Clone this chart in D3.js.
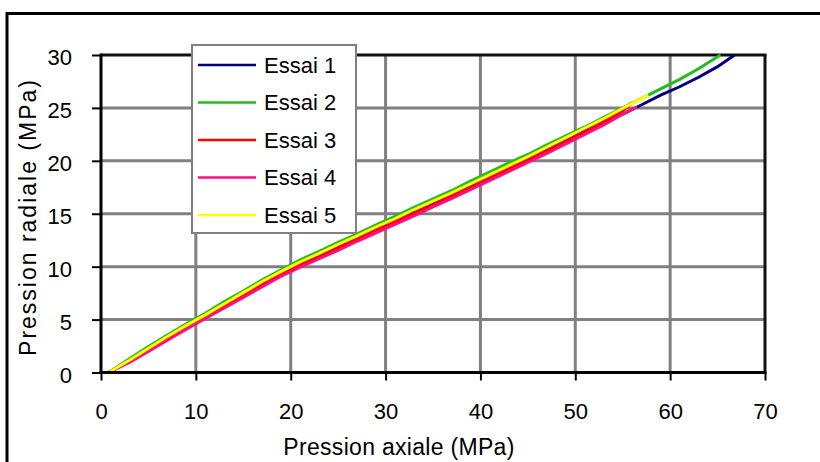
<!DOCTYPE html>
<html><head><meta charset="utf-8">
<script src="https://cdn.jsdelivr.net/npm/d3@7"></script>
<style>
html,body{margin:0;padding:0;background:#fff;}
svg{display:block;font-family:"Liberation Sans",Arial,sans-serif;}
</style></head>
<body>
<svg id="chart" width="820" height="462"></svg>
<script>
const seriesNames = ["Essai 1","Essai 2","Essai 3","Essai 4","Essai 5"];
const seriesColors = ["#000080","#22bb22","#ff0000","#ff0f80","#ffff00"];
const xTicks = [0,10,20,30,40,50,60,70];
const yTicks = [0,5,10,15,20,25,30];

const essai1X = [0.8,3,5,7,9,11,13,15,17,19,21,23,25,27,29,31,33,35,37,39,41,43,45,47,49,51,53,55,57,59,61,63,65,66.8];
const essai1Y = [0,1.1,2.2,3.3,4.3,5.3,6.4,7.4,8.4,9.4,10.3,11.1,11.9,12.8,13.6,14.4,15.3,16.1,16.9,17.7,18.6,19.4,20.3,21.1,21.9,22.8,23.6,24.4,25.3,26.2,27.0,27.9,28.9,30];
const essai2X = [0.8,3,5,7,9,11,13,15,17,19,21,23,25,27,29,31,33,35,37,39,41,43,45,47,49,51,53,55,57,59,61,63,65.3];
const essai2Y = [0,1.3,2.45,3.55,4.6,5.6,6.7,7.7,8.75,9.7,10.65,11.45,12.3,13.1,13.95,14.75,15.6,16.4,17.2,18.1,18.95,19.8,20.6,21.5,22.35,23.2,24.1,25.0,25.9,26.8,27.7,28.7,30];
const essai3X = [0.8,3,5,7,9,11,13,15,17,19,21,23,25,27,29,31,33,35,37,39,41,43,45,47,49,51,53,55,56];
const essai3Y = [0,1.05,2.15,3.2,4.25,5.2,6.25,7.3,8.3,9.3,10.15,10.95,11.75,12.6,13.45,14.25,15.05,15.85,16.7,17.5,18.4,19.25,20.1,20.95,21.85,22.75,23.7,24.7,25.5];
const essai4X = [0.8,3,5,7,9,11,13,15,17,19,21,23,25,27,29,31,33,35,37,39,41,43,45,47,49,51,53,55,56.5];
const essai4Y = [0,0.95,2.0,3.05,4.1,5.1,6.1,7.1,8.1,9.1,9.95,10.75,11.55,12.4,13.2,14.0,14.8,15.65,16.45,17.3,18.15,19.0,19.85,20.7,21.6,22.5,23.4,24.4,25.1];
const essai5X = [0.8,3,5,7,9,11,13,15,17,19,21,23,25,27,29,31,33,35,37,39,41,43,45,47,49,51,53,55,57,57.7];
const essai5Y = [0,1.15,2.3,3.4,4.45,5.45,6.5,7.55,8.6,9.55,10.45,11.25,12.1,12.9,13.75,14.55,15.4,16.2,17.0,17.85,18.7,19.55,20.4,21.3,22.2,23.1,24.0,24.95,25.9,26.2];

const seriesX = [essai1X,essai2X,essai3X,essai4X,essai5X];
const seriesY = [essai1Y,essai2Y,essai3Y,essai4Y,essai5Y];

const svg = d3.select("#chart");
const L = 101, R = 765, T = 55, B = 372.5;
const x = d3.scaleLinear().domain([0,70]).range([L,R]);
const y = d3.scaleLinear().domain([0,30]).range([B,T]);

// outer frame
svg.append("rect").attr("x",7).attr("y",13.5).attr("width",840).attr("height",480)
  .attr("fill","none").attr("stroke","#000").attr("stroke-width",3);

// gridlines
svg.append("g").selectAll("line").data(xTicks.filter(d=>d>0&&d<70)).join("line")
  .attr("x1",d=>x(d)).attr("x2",d=>x(d)).attr("y1",T).attr("y2",B)
  .attr("stroke","#808080").attr("stroke-width",3);
svg.append("g").selectAll("line").data(yTicks.filter(d=>d>0&&d<30)).join("line")
  .attr("x1",L).attr("x2",R).attr("y1",d=>y(d)).attr("y2",d=>y(d))
  .attr("stroke","#808080").attr("stroke-width",3);

// plot border top/right
svg.append("line").attr("x1",L).attr("x2",R+1.5).attr("y1",T).attr("y2",T).attr("stroke","#111").attr("stroke-width",3);
svg.append("line").attr("x1",R).attr("x2",R).attr("y1",T).attr("y2",B).attr("stroke","#111").attr("stroke-width",3);

// series lines
const line = d3.line().x(d=>x(d[0])).y(d=>y(d[1]));
seriesNames.forEach((n,i)=>{
  const pts = seriesX[i].map((v,j)=>[v,seriesY[i][j]]);
  svg.append("path").datum(pts).attr("d",line).attr("fill","none")
    .attr("stroke",seriesColors[i]).attr("stroke-width",3).attr("stroke-linejoin","miter");
});

// axes
const yAxis = svg.append("g").attr("transform",`translate(${L},0)`)
  .call(d3.axisLeft(y).tickValues(yTicks).tickSize(9).tickSizeOuter(0).tickPadding(20));
yAxis.select(".domain").attr("stroke","#000").attr("stroke-width",3).attr("d",`M0,${T-1.5}V${B+1.5}`);
yAxis.selectAll(".tick line").attr("stroke","#000").attr("stroke-width",2);
yAxis.selectAll(".tick text").attr("font-size",22).attr("fill","#000").attr("dy","0.45em").attr("font-family","Liberation Sans, Arial, sans-serif");

const xAxis = svg.append("g").attr("transform",`translate(0,${B})`)
  .call(d3.axisBottom(x).tickValues(xTicks).tickSize(8).tickSizeOuter(0).tickPadding(23));
xAxis.select(".domain").attr("stroke","#000").attr("stroke-width",3).attr("d",`M${L-1.5},0H${R+1.5}`);
xAxis.selectAll(".tick line").attr("stroke","#000").attr("stroke-width",2);
xAxis.selectAll(".tick text").attr("font-size",22).attr("fill","#000").attr("font-family","Liberation Sans, Arial, sans-serif");

// axis titles
svg.append("text").attr("x",399).attr("y",455).attr("text-anchor","middle")
  .attr("font-size",23).attr("letter-spacing","0.3").attr("fill","#000").text("Pression axiale (MPa)");
svg.append("text").attr("transform","translate(36,217) rotate(-90)").attr("text-anchor","middle")
  .attr("font-size",23).attr("letter-spacing","2").attr("fill","#000").text("Pression radiale (MPa)");

// legend
const lg = svg.append("g");
lg.append("rect").attr("x",192).attr("y",45).attr("width",164).attr("height",188)
  .attr("fill","#fff").attr("stroke","#808080").attr("stroke-width",2);
seriesNames.forEach((n,i)=>{
  const cy = 65 + i*37.5;
  lg.append("line").attr("x1",198).attr("x2",256).attr("y1",cy).attr("y2",cy)
    .attr("stroke",seriesColors[i]).attr("stroke-width",2.5);
  lg.append("text").attr("x",264).attr("y",cy).attr("dy","0.36em")
    .attr("font-size",22).attr("fill","#000").text(n);
});
</script>
</body></html>
